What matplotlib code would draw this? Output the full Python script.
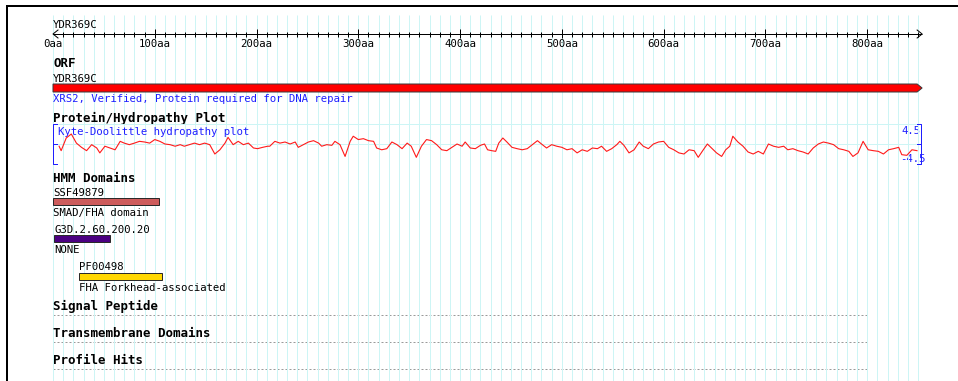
import matplotlib
matplotlib.use("Agg")
import matplotlib.pyplot as plt
from matplotlib.patches import Polygon, Rectangle

# ---------------- data ----------------
protein_len = 854
gene_name = "YDR369C"
orf_note = "XRS2, Verified, Protein required for DNA repair"
ruler_major = [0, 100, 200, 300, 400, 500, 600, 700, 800]
ruler_labels = ["0aa", "100aa", "200aa", "300aa", "400aa", "500aa", "600aa", "700aa", "800aa"]

dom_names = ["SSF49879", "G3D.2.60.200.20", "PF00498"]
dom_desc = ["SMAD/FHA domain", "NONE", "FHA Forkhead-associated"]
dom_start = [1, 2, 27]
dom_end = [104, 56, 107]
dom_colors = ["#cd5c5c", "#4b0082", "#ffd700"]

hydro_pos = [6, 8, 13, 18, 23, 28, 33, 38, 43, 46, 51, 56, 61, 66, 70, 75, 80, 85, 90, 95,
             100, 105, 110, 115, 120, 125, 129, 134, 139, 144, 149, 154, 159, 164, 169, 172,
             177, 182, 187, 192, 197, 201, 206, 211,
             213, 218, 223, 228, 233, 238, 241, 246, 251, 256, 261, 264, 269, 274, 277, 282,
             287, 292, 295, 300, 305, 310, 315, 318, 323, 328, 333, 338, 343, 348, 352, 357,
             362, 367, 372, 377, 382, 387, 392, 397, 402, 405, 410, 415, 420, 424,
             427, 431, 435, 438, 442, 446, 451, 456, 461, 466, 471, 476, 480, 485, 490, 495,
             500, 505, 510, 515, 520, 525, 530, 535, 539, 544, 549, 554, 557, 561, 566, 571,
             576, 580, 585, 590, 595, 600, 605, 610, 615, 620, 625, 630, 634, 639,
             643, 647, 652, 657, 661, 665, 668, 673, 678, 683, 688, 693, 698, 703, 708, 713,
             718, 722, 727, 732, 737, 742, 747, 752, 757, 762, 767, 772, 777, 782, 786, 791,
             796, 801, 806, 811, 816, 821, 826, 831, 834, 839, 844, 849]
hydro_val = [-0.5, -1.5, 1.35, 2.25, 0.2, -0.75, -1.5, -0.15, -0.9, -2.0,
             -0.5, -0.9, -1.3, 0.6, 0.2, -0.15, 0.2, 0.6, 0.45, 0.2,
             1.0, 0.6, 0.0, -0.15, -0.5, -0.15, -0.5, -0.15, 0.2, -0.15,
             0.2, -0.15, -2.25, -1.3, 0.2, 1.5, -0.15, 0.6, -0.15, 0.2,
             -0.9, -1.05, -0.75, -0.5,
             -0.5, 0.6, 0.2, 0.45, 0.0, 0.45, -0.75, -0.15, 0.45, 0.75,
             0.2, -0.5, -0.15, -0.3, 0.6, -0.15, -2.8, 0.6, 1.75, 1.0,
             1.2, 0.75, 0.6, -0.9, -1.3, -1.05, 0.45, -0.15, -1.05, 0.2,
             -0.5, -3.0, -0.5, 1.0, 0.75, -0.15, -1.3, -1.5, -0.75, 0.0,
             -0.5, 0.45, -0.9, -1.05, -0.3, 0.0,
             -1.3, -1.5, -1.65, 0.2, 1.35, 0.45, -0.75, -1.05, -1.3, -1.05,
             -0.15, 0.75, 0.0, -0.9, -0.15, -0.5, -0.75, -1.3, -1.05, -2.0,
             -1.3, -1.65, -0.9, -1.05, -0.5, -1.65, -1.05, -0.15, 0.6, -0.3,
             -2.0, -1.3, 0.45, -0.5, -1.05, 0.0, 0.45, 0.6, -0.75, -1.3,
             -2.0, -2.25, -1.3, -1.5, -3.0, -1.3,
             0.0, -0.9, -2.0, -2.8, -1.3, -0.5, 1.75, 0.45, -0.5, -1.8,
             -2.25, -1.65, -2.25, 0.0, -0.5, -0.75, -0.5, -1.3, -1.05, -1.5,
             -1.8, -2.25, -0.9, 0.0, 0.45, 0.2, -0.15, -1.05, -1.3, -1.65,
             -2.8, -2.0, 0.6, -1.3, -1.5, -1.65, -2.25, -1.3, -1.05, -0.75,
             -2.4, -2.55, -1.3, -1.5]
hydro_max = 4.5
section_titles = ["Signal Peptide", "Transmembrane Domains", "Profile Hits"]

# ---------------- layout ----------------
W, H = 958, 381
X0 = 53.0          # pixel of residue 0
PPA = 1.0177       # pixels per residue
MONO = "DejaVu Sans Mono"
FS = 7.65
FSB = 9.0
BLUE = "#1f1fff"
GRID = "#cdf5f5"
LW = 0.72

fig = plt.figure(figsize=(W / 100, H / 100), dpi=100)
fig.patch.set_facecolor("white")

# pixel axes
ax = fig.add_axes([0, 0, 1, 1])
ax.set_xlim(0, W)
ax.set_ylim(H, 0)
ax.axis("off")

# residue axes (x in aa, y in pixels)
tx = fig.add_axes([0, 0, 1, 1])
tx.set_xlim(-X0 / PPA, (W - X0) / PPA)
tx.set_ylim(H, 0)
tx.axis("off")
tx.patch.set_alpha(0)

# frame
ax.plot([7, 7], [H, 6], color="black", lw=2.0 * LW, solid_capstyle="butt")
ax.plot([6, W], [6, 6], color="black", lw=2.0 * LW, solid_capstyle="butt")

# vertical grid every 10 aa
grid_x = list(range(0, 851, 10))
tx.vlines(grid_x, 15, H, colors=GRID, lw=LW, zorder=0)

# ---- ruler ----
ry = 34
tx.text(0, 28, gene_name, family=MONO, fontsize=FS, ha="left", va="baseline")
tx.hlines(ry, 0, protein_len, colors="black", lw=LW)
minor = [p for p in range(10, protein_len, 10) if p % 100 != 0]
tx.vlines(minor, ry - 2.5, ry + 2.5, colors="black", lw=LW)
tx.vlines(ruler_major[1:], ry - 5, ry + 4, colors="black", lw=LW)
ah = 5 / PPA
tx.plot([ah, 0, ah], [ry - 4, ry, ry + 4], color="black", lw=LW)
tx.plot([protein_len - ah, protein_len, protein_len - ah], [ry - 4, ry, ry + 4], color="black", lw=LW)
for p, lab in zip(ruler_major, ruler_labels):
    tx.text(p, 47, lab, family=MONO, fontsize=FS, ha="center", va="baseline")

# ---- ORF ----
tx.text(0, 67, "ORF", family=MONO, fontsize=FSB, weight="bold", ha="left", va="baseline")
tx.text(0, 82, gene_name, family=MONO, fontsize=FS, ha="left", va="baseline")
tip = 5 / PPA
orf = Polygon([(0, 84), (protein_len - tip, 84), (protein_len, 88),
               (protein_len - tip, 92), (0, 92)], closed=True,
              facecolor="#ff0000", edgecolor="#3a3a3a", lw=LW)
tx.add_patch(orf)
tx.text(0, 102, orf_note, family=MONO, fontsize=FS, color=BLUE, ha="left", va="baseline")

# ---- hydropathy ----
tx.text(0, 122, "Protein/Hydropathy Plot", family=MONO, fontsize=FSB, weight="bold",
        ha="left", va="baseline")
hy = fig.add_axes([0, (H - 164) / H, 1, 40 / H])
hy.set_xlim(-X0 / PPA, (W - X0) / PPA)
hy.set_ylim(-hydro_max, hydro_max)
hy.axis("off")
hy.patch.set_alpha(0)
hy.hlines([hydro_max, 0, -hydro_max], 0, 850, colors=GRID, lw=LW, zorder=0)
hy.plot(hydro_pos, hydro_val, color="#ff1a1a", lw=0.8, zorder=2)
tk = 4 / PPA
# left bracket
hy.plot([tk, 0, 0, tk], [hydro_max, hydro_max, -hydro_max, -hydro_max], color=BLUE, lw=LW, clip_on=False)
hy.plot([0, tk], [0, 0], color=BLUE, lw=LW)
# right bracket
rb = protein_len - 1
hy.plot([rb - tk, rb, rb, rb - tk], [hydro_max, hydro_max, -hydro_max, -hydro_max], color=BLUE, lw=LW, clip_on=False)
hy.plot([rb - tk, rb], [0, 0], color=BLUE, lw=LW)
tx.text(5 / PPA, 135, "Kyte-Doolittle hydropathy plot", family=MONO, fontsize=FS, color=BLUE,
        ha="left", va="baseline")
ax.text(921, 134, "4.5", family=MONO, fontsize=FS, color=BLUE, ha="right", va="baseline")
ax.text(926, 162, "-4.5", family=MONO, fontsize=FS, color=BLUE, ha="right", va="baseline")

# ---- HMM domains ----
tx.text(0, 182, "HMM Domains", family=MONO, fontsize=FSB, weight="bold", ha="left", va="baseline")
name_base = [196, 233, 270]
bar_top = [198, 235, 273]
desc_base = [216, 253, 291]
for i in range(len(dom_names)):
    s, e = dom_start[i], dom_end[i]
    xs = s - 1
    tx.text(xs, name_base[i], dom_names[i], family=MONO, fontsize=FS, ha="left", va="baseline")
    tx.add_patch(Rectangle((xs, bar_top[i]), e - xs, 7, facecolor=dom_colors[i],
                           edgecolor="#2a2a2a", lw=LW))
    tx.text(xs, desc_base[i], dom_desc[i], family=MONO, fontsize=FS, ha="left", va="baseline")

# ---- empty tracks ----
title_base = [310, 337, 364]
dot_y = [314.5, 341.5, 368.5]
for t, b, d in zip(section_titles, title_base, dot_y):
    tx.text(0, b, t, family=MONO, fontsize=FSB, weight="bold", ha="left", va="baseline")
    ax.hlines(d, 53, 868, colors="#9a9a9a", lw=LW, linestyles=(0, (2, 2)))

fig.savefig("out.png", dpi=100, facecolor="white")
